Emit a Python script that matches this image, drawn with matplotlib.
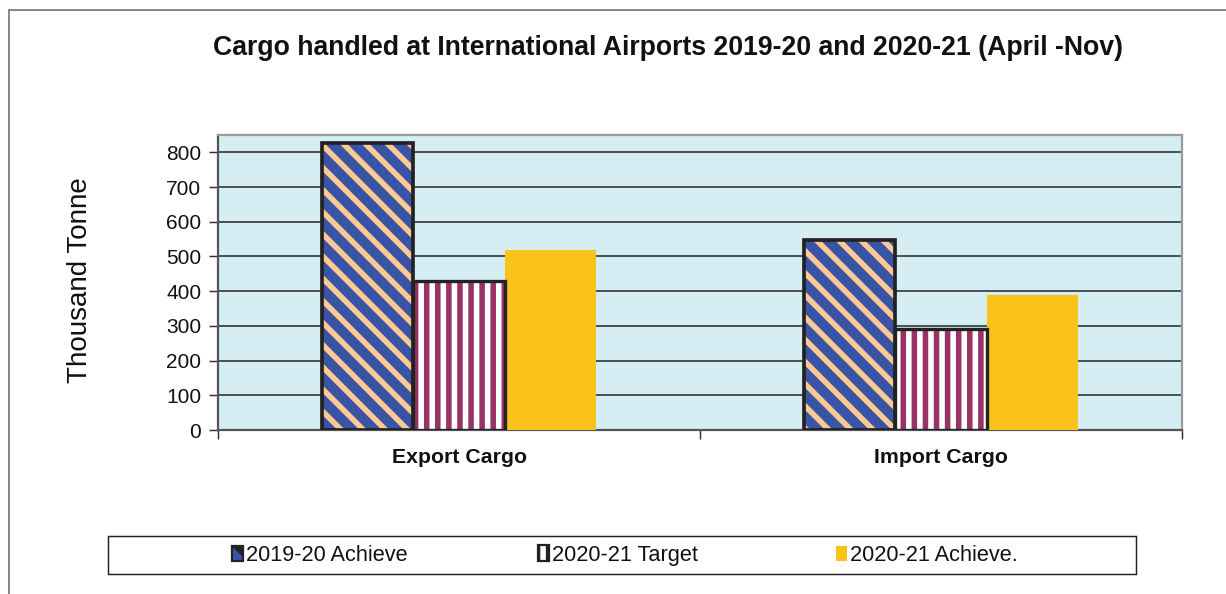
import numpy as np
import matplotlib
matplotlib.use("Agg")
import matplotlib.pyplot as plt
from matplotlib.patches import Rectangle

plt.rcParams['font.family'] = ['Liberation Sans', 'DejaVu Sans']
plt.rcParams['hatch.linewidth'] = 3.0

# data
categories = ["Export Cargo", "Import Cargo"]
series_names = ["2019-20 Achieve", "2020-21 Target", "2020-21 Achieve."]
achieve_1920 = [828, 548]
target_2021 = [430, 292]
achieve_2021 = [520, 390]

DPI = 133
fig = plt.figure(figsize=(1226 / DPI, 594 / DPI), dpi=DPI)
W, H = 1226, 594

def fx(px):
    return px / W

def fy(py):
    return 1 - py / H

# outer chart border
fig.patches.append(Rectangle((fx(9), fy(600)), fx(1240) - fx(9), fy(10) - fy(600),
                             transform=fig.transFigure, fill=False,
                             edgecolor="#808080", linewidth=1.0))

ax = fig.add_axes([fx(218), fy(430), fx(1182) - fx(218), fy(135) - fy(430)])
ax.set_facecolor("#D4EEF4")

x = np.arange(len(categories))
w = 0.189

b1 = ax.bar(x - w, achieve_1920, w, color="#3954A5", edgecolor="#FFC993",
            hatch="\\\\", linewidth=0, zorder=3, label=series_names[0])
ax.bar(x - w, achieve_1920, w, fill=False, edgecolor="#222222", linewidth=2.0, zorder=4)
b2 = ax.bar(x, target_2021, w, color="white", edgecolor="#993366",
            hatch="||", linewidth=0, zorder=3, label=series_names[1])
ax.bar(x, target_2021, w, fill=False, edgecolor="#222222", linewidth=1.8, zorder=4)
b3 = ax.bar(x + w, achieve_2021, w, color="#F9C31A", linewidth=0, zorder=3,
            label=series_names[2])

ax.set_xlim(-0.5, 1.5)
ax.set_ylim(0, 850)
ax.set_yticks(np.arange(0, 801, 100))
ax.yaxis.grid(True, color="#333333", linewidth=0.9, zorder=1)
ax.set_axisbelow(True)

ax.set_xticks([-0.5, 0.5, 1.5])
ax.set_xticklabels([])
ax.set_xticks(x, minor=True)
ax.set_xticklabels(categories, minor=True, fontsize=11.5, fontweight="bold", color="#111111")
ax.tick_params(axis="x", which="major", length=5, direction="out", color="#333333")
ax.tick_params(axis="x", which="minor", length=0, pad=10)
ax.tick_params(axis="y", length=5, direction="out", labelsize=11.3, pad=4, color="#333333",
               labelcolor="#111111")

for s in ["top", "right"]:
    ax.spines[s].set_color("#9a9a9a")
    ax.spines[s].set_linewidth(1.2)
ax.spines["left"].set_color("#555555")
ax.spines["left"].set_linewidth(1.2)
ax.spines["bottom"].set_color("#555555")
ax.spines["bottom"].set_linewidth(1.2)

fig.text(fx(668), fy(48), "Cargo handled at International Airports 2019-20 and 2020-21 (April -Nov)",
         ha="center", va="center", fontsize=14.4, fontweight="bold", color="#111111")
fig.text(fx(80), fy(280), "Thousand Tonne", rotation=90, ha="center", va="center",
         fontsize=15, color="#111111")

# legend box + one legend per entry so they line up
fig.patches.append(Rectangle((fx(108), fy(574)), fx(1136) - fx(108), fy(536) - fy(574),
                             transform=fig.transFigure, fill=False,
                             edgecolor="#222222", linewidth=0.8))
leg_x = [232, 538, 836]
leg_y = [555.5, 555, 555.5]
for i, (b, name) in enumerate(zip([b1, b2, b3], series_names)):
    leg = fig.legend(handles=[b], labels=[name], loc="center left",
                     bbox_to_anchor=(fx(leg_x[i]), fy(leg_y[i])), frameon=False,
                     fontsize=11.8, handlelength=0.5, handleheight=0.7, handletextpad=0.15,
                     borderpad=0, borderaxespad=0, labelcolor="#111111")
    if i < 2:
        h = leg.legend_handles[0]
        h.set_edgecolor("#222222")
        h.set_linewidth(1.2)

fig.savefig("out.png", dpi=DPI)
